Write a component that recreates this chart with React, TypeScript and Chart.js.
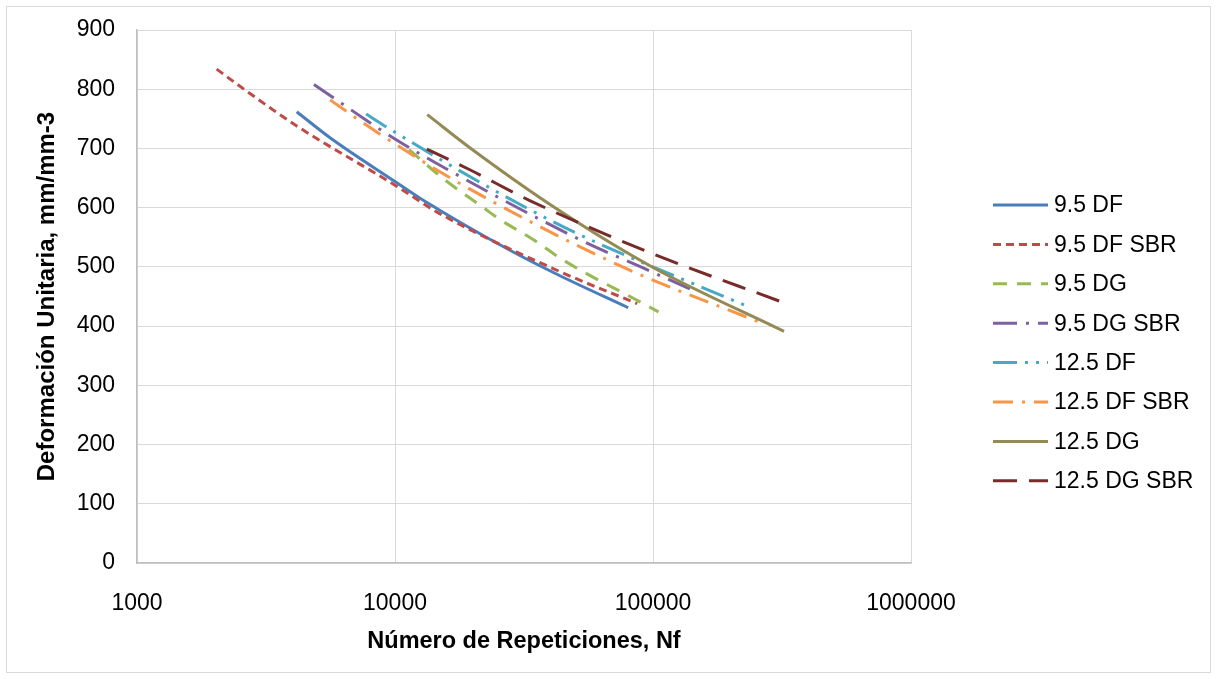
import React, { useEffect, useRef } from "react";
import { Chart, registerables } from "chart.js";

Chart.register(...registerables);

// ---- Data ----
const seriesNames = [
  "9.5 DF",
  "9.5 DF SBR",
  "9.5 DG",
  "9.5 DG SBR",
  "12.5 DF",
  "12.5 DF SBR",
  "12.5 DG",
  "12.5 DG SBR",
];

const n95DF = [4160, 5600, 10000, 12500, 27900, 43600, 80200];
const y95DF = [762, 718, 644, 616, 528, 485, 431];

const n95DFSBR = [2036, 2580, 4160, 10000, 14900, 43600, 86900];
const y95DFSBR = [834, 801, 738, 638, 590, 492, 438];

const n95DG = [11330, 15600, 21700, 25500, 34400, 43600, 57800, 81500, 105000];
const y95DG = [698, 647, 602, 580, 546, 515, 484, 450, 424];

const n95DGSBR = [4850, 10000, 15600, 52100, 90600, 139000];
const y95DGSBR = [808, 716, 667, 546, 499, 463];

const n125DF = [7730, 9290, 21300, 49900, 166000, 228000];
const y125DF = [758, 736, 643, 558, 460, 435];

const n125DFSBR = [5600, 8750, 18000, 74400, 264000];
const y125DFSBR = [782, 724, 640, 502, 405];

const n125DG = [13340, 19800, 42300, 100000, 322000];
const y125DG = [757, 699, 598, 499, 391];

const n125DGSBR = [13290, 19500, 33300, 100000, 310000];
const y125DGSBR = [699, 664, 612, 522, 442];

const xTickValues = [1000, 10000, 100000, 1000000];
const yMin = 0;
const yMax = 900;
const yStep = 100;

const xTitle = "Número de Repeticiones, Nf";
const yTitle = "Deformación Unitaria, mm/mm-3";

// ---- Styles ----
const seriesN = [n95DF, n95DFSBR, n95DG, n95DGSBR, n125DF, n125DFSBR, n125DG, n125DGSBR];
const seriesY = [y95DF, y95DFSBR, y95DG, y95DGSBR, y125DF, y125DFSBR, y125DG, y125DGSBR];
const colors = ["#4A7EBB", "#BE4B48", "#98B954", "#7D60A0", "#46AAC5", "#F79646", "#948A54", "#772C2A"];
const dashes: number[][] = [
  [],
  [8, 5],
  [14, 10],
  [24, 9, 3, 9],
  [24, 8, 3, 8, 3, 8],
  [20, 9, 3, 9],
  [],
  [24, 12],
];

const FONT = '"Liberation Sans", Arial, sans-serif';

const frameLegendPlugin = {
  id: "frameLegend",
  beforeDraw(chart: any) {
    const ctx = chart.ctx;
    ctx.save();
    ctx.fillStyle = "#ffffff";
    ctx.fillRect(0, 0, chart.width, chart.height);
    ctx.strokeStyle = "#D9D9D9";
    ctx.lineWidth = 1;
    ctx.strokeRect(6.5, 6.5, chart.width - 13, chart.height - 13);
    ctx.restore();
  },
  afterDraw(chart: any) {
    const ctx = chart.ctx;
    ctx.save();
    chart.data.datasets.forEach((ds: any, i: number) => {
      const y = 205 + i * 39.4;
      ctx.beginPath();
      ctx.setLineDash(ds.borderDash || []);
      ctx.strokeStyle = ds.borderColor;
      ctx.lineWidth = 3;
      ctx.lineCap = "butt";
      ctx.moveTo(993, y);
      ctx.lineTo(1048, y);
      ctx.stroke();
      ctx.setLineDash([]);
      ctx.fillStyle = "#000000";
      ctx.font = `23px ${FONT}`;
      ctx.textBaseline = "middle";
      ctx.textAlign = "left";
      ctx.fillText(ds.label, 1054, y + 1);
    });
    ctx.restore();
  },
};

export default function App() {
  const canvasRef = useRef<HTMLCanvasElement | null>(null);

  useEffect(() => {
    if (!canvasRef.current) return;
    const datasets = seriesNames.map((name, i) => ({
      label: name,
      data: seriesN[i].map((x, j) => ({ x, y: seriesY[i][j] })),
      borderColor: colors[i],
      backgroundColor: colors[i],
      borderWidth: 3,
      borderDash: dashes[i],
      borderCapStyle: "butt" as const,
      pointRadius: 0,
      fill: false,
      cubicInterpolationMode: "monotone" as const,
      order: seriesNames.length - 1 - i,
    }));

    const chart = new Chart(canvasRef.current, {
      type: "line",
      data: { datasets },
      plugins: [frameLegendPlugin],
      options: {
        responsive: false,
        animation: false,
        devicePixelRatio: 1,
        layout: { padding: { left: 0, top: 30, right: 306, bottom: 0 } },
        plugins: {
          legend: { display: false },
          tooltip: { enabled: false },
        },
        scales: {
          x: {
            type: "logarithmic",
            min: 1000,
            max: 1000000,
            afterBuildTicks: (s: any) => {
              s.ticks = xTickValues.map((v) => ({ value: v }));
            },
            afterFit: (s: any) => {
              s.height = 116;
            },
            ticks: {
              callback: (v: any) => String(v),
              font: { family: FONT, size: 23 },
              color: "#000000",
              padding: 27,
              autoSkip: false,
              maxRotation: 0,
            },
            grid: { color: "#D9D9D9", lineWidth: 1, drawTicks: false },
            border: { color: "#BFBFBF", width: 1.5 },
            title: {
              display: true,
              text: xTitle,
              font: { family: FONT, size: 23.5, weight: "bold" },
              color: "#000000",
              padding: { top: 0, bottom: 23 },
            },
          },
          y: {
            type: "linear",
            min: yMin,
            max: yMax,
            afterFit: (s: any) => {
              s.width = 137;
              s.paddingTop = 0;
              s.paddingBottom = 0;
            },
            ticks: {
              stepSize: yStep,
              font: { family: FONT, size: 23 },
              color: "#000000",
              padding: 22,
            },
            grid: { color: "#D9D9D9", lineWidth: 1, drawTicks: false },
            border: { color: "#BFBFBF", width: 1.5 },
            title: {
              display: true,
              text: yTitle,
              font: { family: FONT, size: 24, weight: "bold" },
              color: "#000000",
              padding: { top: 33, bottom: 0 },
            },
          },
        },
      } as any,
    });
    return () => chart.destroy();
  }, []);

  return (
    <div style={{ position: "absolute", left: 0, top: 0, width: 1217, height: 679, background: "#fff" }}>
      <canvas ref={canvasRef} width={1217} height={679} style={{ display: "block" }} />
    </div>
  );
}
